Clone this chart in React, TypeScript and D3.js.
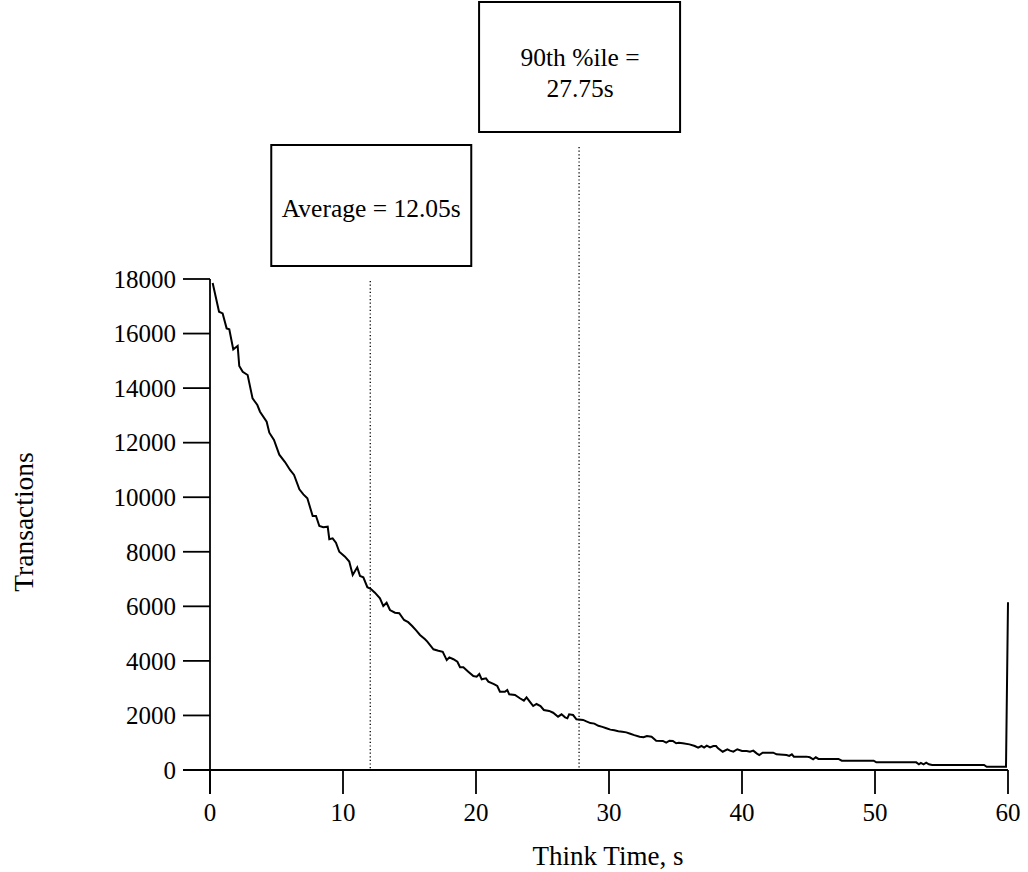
import React from "react";
import * as d3 from "d3";

const THINK_TIME = [
  0.2, 0.68, 0.95, 1.25, 1.45, 1.75, 1.95, 2.08, 2.2, 2.46, 2.83, 3.2, 3.56, 3.76, 4.26, 4.46, 4.81, 5.21, 5.64, 5.89,
  6.02, 6.32, 6.72, 7.02, 7.32, 7.72, 7.97, 8.22, 8.52, 8.85, 8.97, 9.22, 9.47, 9.72, 10.15, 10.47, 10.73, 11.07, 11.28, 11.53,
  11.83, 12.08, 12.4, 12.78, 13.03, 13.28, 13.53, 13.91, 14.23, 14.59, 14.9, 15.2, 15.5, 15.79, 16.17, 16.34, 16.8, 17.17, 17.5, 17.8,
  18.0, 18.3, 18.6, 18.8, 19.05, 19.42, 19.8, 20.05, 20.25, 20.43, 20.75, 20.93, 21.35, 21.6, 21.8, 22.17, 22.35, 22.5, 22.93, 23.3,
  23.6, 23.8, 24.1, 24.3, 24.55, 24.85, 25.1, 25.5, 25.8, 26.17, 26.43, 26.7, 26.87, 27.0, 27.3, 27.55, 28.05, 28.3, 28.6, 28.9,
  29.2, 29.5, 29.8, 30.1, 30.4, 30.7, 31.0, 31.3, 31.6, 31.9, 32.3, 32.6, 32.85, 33.2, 33.55, 34.05, 34.3, 34.55, 34.8, 35.05,
  35.25, 35.55, 36.05, 36.45, 36.7, 36.95, 37.15, 37.35, 37.6, 37.85, 38.05, 38.2, 38.55, 38.9, 39.1, 39.35, 39.65, 40.0, 40.35, 40.6,
  40.85, 41.1, 41.3, 41.55, 42.35, 42.6, 43.35, 43.55, 43.75, 43.9, 44.85, 45.1, 45.35, 45.55, 45.75, 47.25, 47.5, 49.9, 50.1, 53.1,
  53.3, 53.45, 53.65, 53.85, 54.05, 54.3, 58.2, 58.4, 59.85, 60,
];

const TRANSACTIONS = [
  17850, 16800, 16740, 16190, 16155, 15420, 15495, 15545, 14810, 14600, 14480, 13625, 13380, 13135, 12770, 12365, 12100, 11560, 11290, 11100,
  11000, 10815, 10290, 10105, 9960, 9310, 9310, 8945, 8900, 8920, 8460, 8495, 8335, 8000, 7820, 7640, 7150, 7430, 7110, 7065,
  6700, 6645, 6500, 6295, 6010, 6130, 5865, 5765, 5745, 5500, 5420, 5280, 5120, 4950, 4790, 4705, 4425, 4375, 4335, 4030,
  4130, 4060, 3970, 3765, 3765, 3605, 3445, 3420, 3520, 3325, 3360, 3240, 3150, 3080, 2870, 2870, 2930, 2775, 2750, 2630,
  2540, 2665, 2470, 2345, 2420, 2345, 2200, 2165, 2100, 1955, 2040, 1930, 1895, 2040, 2015, 1860, 1835, 1780, 1720, 1700,
  1620, 1580, 1530, 1480, 1460, 1420, 1400, 1380, 1330, 1280, 1220, 1200, 1245, 1220, 1075, 1065, 1000, 1075, 1065, 980,
  1000, 980, 940, 880, 820, 880, 820, 890, 830, 880, 880, 795, 670, 760, 710, 670, 760, 695, 695, 670,
  710, 610, 550, 635, 635, 575, 550, 515, 575, 490, 490, 465, 390, 465, 405, 405, 340, 340, 280, 280,
  210, 260, 210, 270, 210, 185, 185, 120, 120, 6150,
];

const X_TICKS = [0, 10, 20, 30, 40, 50, 60];
const Y_TICKS = [0, 2000, 4000, 6000, 8000, 10000, 12000, 14000, 16000, 18000];

const AVERAGE = 12.05;
const PERCENTILE_90 = 27.75;
const AVERAGE_LABEL = ["Average = 12.05s"];
const PERCENTILE_LABEL = ["90th %ile =", "27.75s"];

const X_LABEL = "Think Time, s";
const Y_LABEL = "Transactions";

export default function App() {
  const W = 1028;
  const H = 872;
  const x = d3.scaleLinear().domain([0, 60]).range([210, 1008]);
  const y = d3.scaleLinear().domain([0, 18000]).range([770, 279]);
  const font = "'Liberation Serif', 'Times New Roman', serif";

  const pts: [number, number][] = THINK_TIME.map((t, i) => [t, TRANSACTIONS[i]]);
  const line = d3
    .line<[number, number]>()
    .x((d) => x(d[0]))
    .y((d) => y(d[1]));

  const avgX = x(AVERAGE);
  const pX = x(PERCENTILE_90);

  return (
    <svg
      width={W}
      height={H}
      style={{ position: "absolute", left: 0, top: 0, background: "#fff" }}
      fontFamily={font}
    >
      <rect x={0} y={0} width={W} height={H} fill="#fff" />
      {/* dotted reference lines */}
      <line x1={avgX} x2={avgX} y1={281} y2={770} stroke="#000" strokeWidth={1.3} strokeDasharray="1.2,2.4" />
      <line x1={pX} x2={pX} y1={147} y2={770} stroke="#000" strokeWidth={1.3} strokeDasharray="1.2,2.4" />

      {/* annotation boxes */}
      <rect x={avgX - 99} y={145} width={200} height={121} fill="#fff" stroke="#000" strokeWidth={2} />
      {AVERAGE_LABEL.map((s, i) => (
        <text key={s} x={avgX + 1} y={208 + i * 31} textAnchor="middle" dy="0.35em" fontSize={25.5}>
          {s}
        </text>
      ))}
      <rect x={pX - 100} y={2} width={201} height={130} fill="#fff" stroke="#000" strokeWidth={2} />
      {PERCENTILE_LABEL.map((s, i) => (
        <text key={s} x={pX + 1} y={57 + i * 31} textAnchor="middle" dy="0.35em" fontSize={25.5}>
          {s}
        </text>
      ))}

      {/* axes */}
      <line x1={210} x2={210} y1={279} y2={794} stroke="#000" strokeWidth={1.8} />
      <line x1={183} x2={1008} y1={770} y2={770} stroke="#000" strokeWidth={1.8} />
      {Y_TICKS.map((v) => (
        <g key={"y" + v}>
          <line x1={183} x2={210} y1={y(v)} y2={y(v)} stroke="#000" strokeWidth={1.8} />
          <text x={176} y={y(v)} dy="0.35em" textAnchor="end" fontSize={25}>
            {v}
          </text>
        </g>
      ))}
      {X_TICKS.map((v) => (
        <g key={"x" + v}>
          <line x1={x(v)} x2={x(v)} y1={770} y2={794} stroke="#000" strokeWidth={1.8} />
          <text x={x(v)} y={812} dy="0.35em" textAnchor="middle" fontSize={25}>
            {v}
          </text>
        </g>
      ))}
      <text x={608} y={856} dy="0.35em" textAnchor="middle" fontSize={27}>
        {X_LABEL}
      </text>
      <text
        transform={`translate(23, 522) rotate(-90)`}
        dy="0.35em"
        textAnchor="middle"
        fontSize={27.5}
      >
        {Y_LABEL}
      </text>

      {/* data line */}
      <path d={line(pts) || ""} fill="none" stroke="#000" strokeWidth={2} strokeLinejoin="miter" />
    </svg>
  );
}
